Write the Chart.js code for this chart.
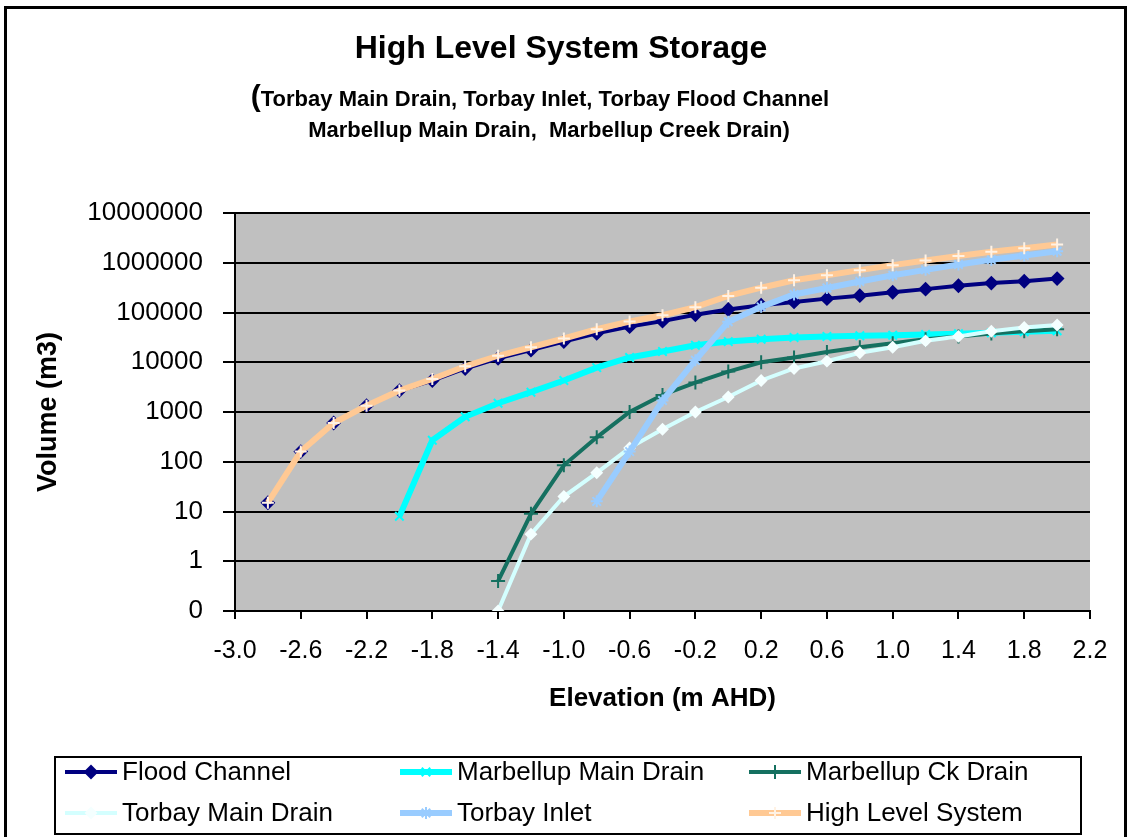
<!DOCTYPE html>
<html>
<head>
<meta charset="utf-8">
<title>High Level System Storage</title>
<script src="https://cdn.jsdelivr.net/npm/chart.js@4.4.0/dist/chart.umd.min.js"></script>
<style>
  html, body { margin: 0; padding: 0; background: #fff; }
  #wrap { position: relative; width: 1130px; height: 837px; }
</style>
</head>
<body>
<div id="wrap"><canvas id="chart" width="1130" height="837"></canvas></div>
<script>
// Elevation (m AHD), one entry per point on the chart
const elevation = [-2.8, -2.6, -2.4, -2.2, -2.0, -1.8, -1.6, -1.4, -1.2, -1.0, -0.8, -0.6, -0.4,
                   -0.2, 0.0, 0.2, 0.4, 0.6, 0.8, 1.0, 1.2, 1.4, 1.6, 1.8, 2.0];

// Volumes (m3), null where a series has no value yet
const floodChannel = [15, 160, 600, 1340, 2700, 4300, 7500, 12000, 17500, 26000, 38000, 52000, 67000,
                      90000, 115000, 140000, 163000, 190000, 218000, 255000, 295000, 345000, 390000, 425000, 480000];
const marbellupMain = [null, null, null, null, 8, 270, 800, 1500, 2500, 4300, 7800, 12500, 16500,
                       22000, 26000, 29000, 31500, 33000, 34000, 35000, 36000, 37500, 39000, 41000, 43000];
const marbellupCk = [null, null, null, null, null, null, null, 0.4, 9, 85, 310, 1000, 2200,
                     3900, 6500, 10000, 12500, 16000, 20000, 24000, 29000, 33000, 38000, 42000, 46000];
const torbayMain = [null, null, null, null, null, null, null, 0.1, 3.5, 20, 60, 190, 450,
                    1000, 2000, 4300, 7500, 10500, 15500, 20000, 27000, 33000, 42000, 50000, 56000];
const torbayInlet = [null, null, null, null, null, null, null, null, null, null, 16, 160, 1700,
                     11000, 65000, 130000, 230000, 310000, 420000, 560000, 720000, 920000, 1150000, 1400000, 1700000];
const highLevel = [15, 160, 600, 1340, 2700, 4600, 8300, 13500, 20000, 30000, 46000, 66000, 88000,
                   128000, 215000, 315000, 445000, 560000, 710000, 895000, 1110000, 1370000, 1660000, 1960000, 2330000];

const xTickValues = [-3.0, -2.6, -2.2, -1.8, -1.4, -1.0, -0.6, -0.2, 0.2, 0.6, 1.0, 1.4, 1.8, 2.2];
const yTickValues = [0.1, 1, 10, 100, 1000, 10000, 100000, 1000000, 10000000];

const FONT = '"Liberation Sans", Arial, sans-serif';

function points(values) {
    return elevation.map((x, i) => ({ x: x, y: values[i] })).filter(p => p.y !== null);
}

function series(label, values, color, width, style, radius, fill, order) {
    return {
        label: label,
        data: points(values),
        borderColor: color,
        backgroundColor: color,
        borderWidth: width,
        pointStyle: style,
        pointRadius: radius,
        pointBackgroundColor: fill,
        pointBorderColor: fill,
        pointBorderWidth: 2,
        tension: 0,
        order: order
    };
}

const datasets = [
    series('Flood Channel', floodChannel, '#000080', 4, 'rectRot', 6, '#000080', 5),
    series('Marbellup Main Drain', marbellupMain, '#00FFFF', 6, 'crossRot', 6, '#00FFFF', 4),
    series('Marbellup Ck Drain', marbellupCk, '#157060', 4, 'cross', 7, '#157060', 3),
    series('Torbay Main Drain', torbayMain, '#D4FFFF', 4, 'rectRot', 5, '#F4FFFF', 2),
    series('Torbay Inlet', torbayInlet, '#99CCFF', 6, 'star', 6, '#99CCFF', 1),
    series('High Level System', highLevel, '#FFC994', 6, 'cross', 6, '#FFF2E4', 0)
];

// Plot background, outer frame, headings and the boxed legend
const decorPlugin = {
    id: 'decor',
    beforeDraw(chart) {
        const { ctx, chartArea } = chart;
        ctx.save();
        ctx.fillStyle = '#fff';
        ctx.fillRect(0, 0, chart.width, chart.height);
        ctx.fillStyle = '#C0C0C0';
        ctx.fillRect(chartArea.left, chartArea.top, chartArea.right - chartArea.left, chartArea.bottom - chartArea.top);
        ctx.restore();
    },
    afterDraw(chart) {
        const ctx = chart.ctx;
        ctx.save();

        // frame
        ctx.strokeStyle = '#000';
        ctx.lineWidth = 3;
        ctx.strokeRect(5.5, 7.5, 1120, 845);

        // headings
        ctx.fillStyle = '#000';
        ctx.textBaseline = 'middle';
        ctx.textAlign = 'center';
        ctx.font = 'bold 32px ' + FONT;
        ctx.fillText('High Level System Storage', 561, 49);

        const line1 = 'Torbay Main Drain, Torbay Inlet, Torbay Flood Channel';
        ctx.font = 'bold 22px ' + FONT;
        const w1 = ctx.measureText(line1).width;
        ctx.font = 'bold 30px ' + FONT;
        const wp = ctx.measureText('(').width;
        const start = 540 - (w1 + wp) / 2;
        ctx.textAlign = 'left';
        ctx.fillText('(', start, 98);
        ctx.font = 'bold 22px ' + FONT;
        ctx.fillText(line1, start + wp, 100);
        ctx.textAlign = 'center';
        ctx.fillText('Marbellup Main Drain,  Marbellup Creek Drain)', 549, 131);

        // legend
        ctx.lineWidth = 2;
        ctx.strokeRect(55, 757, 1026, 77);
        const cols = [65, 400, 749];
        const rows = [772, 813];
        chart.data.datasets.forEach((ds, i) => {
            const x0 = cols[i % 3];
            const y = rows[Math.floor(i / 3)];
            ctx.strokeStyle = ds.borderColor;
            ctx.lineWidth = ds.borderWidth;
            ctx.beginPath();
            ctx.moveTo(x0, y);
            ctx.lineTo(x0 + 52, y);
            ctx.stroke();
            if (Chart.helpers && Chart.helpers.drawPoint) {
                ctx.fillStyle = ds.pointBackgroundColor;
                ctx.strokeStyle = ds.pointBorderColor;
                ctx.lineWidth = ds.pointBorderWidth;
                Chart.helpers.drawPoint(ctx, {
                    pointStyle: ds.pointStyle, rotation: 0,
                    radius: ds.pointRadius, borderWidth: ds.pointBorderWidth
                }, x0 + 26, y);
            }
            ctx.fillStyle = '#000';
            ctx.textAlign = 'left';
            ctx.font = '26px ' + FONT;
            ctx.fillText(ds.label, x0 + 57, y + 1);
        });

        ctx.restore();
    }
};

new Chart(document.getElementById('chart'), {
    type: 'line',
    data: { datasets: datasets },
    plugins: [decorPlugin],
    options: {
        responsive: false,
        animation: false,
        devicePixelRatio: 1,
        layout: { padding: { top: 213, right: 40, bottom: 115, left: 0 } },
        plugins: {
            legend: { display: false },
            title: { display: false },
            tooltip: { enabled: false }
        },
        scales: {
            x: {
                type: 'linear',
                min: -3.0,
                max: 2.2,
                afterBuildTicks: (s) => { s.ticks = xTickValues.map(v => ({ value: v })); },
                afterFit: (s) => { s.height = 111; },
                ticks: {
                    color: '#000',
                    font: { family: FONT, size: 25 },
                    padding: 17,
                    autoSkip: false,
                    maxRotation: 0,
                    callback: (v) => Number(v).toFixed(1)
                },
                grid: { drawOnChartArea: false, color: '#000', lineWidth: 2, tickLength: 8 },
                border: { color: '#000', width: 2 },
                title: {
                    display: true,
                    text: 'Elevation (m AHD)',
                    color: '#000',
                    font: { family: FONT, size: 26, weight: 'bold' },
                    padding: { top: 0, bottom: 8 }
                }
            },
            y: {
                type: 'logarithmic',
                min: 0.1,
                max: 10000000,
                afterBuildTicks: (s) => { s.ticks = yTickValues.map(v => ({ value: v })); },
                afterFit: (s) => { s.width = 235; },
                ticks: {
                    color: '#000',
                    font: { family: FONT, size: 26 },
                    padding: 20,
                    autoSkip: false,
                    callback: (v) => v < 1 ? '0' : String(v)
                },
                grid: { color: '#000', lineWidth: 2, tickLength: 12 },
                border: { color: '#000', width: 2 },
                title: {
                    display: true,
                    text: 'Volume (m3)',
                    color: '#000',
                    font: { family: FONT, size: 27, weight: 'bold' },
                    padding: { top: 32, bottom: 0 }
                }
            }
        }
    }
});
</script>
</body>
</html>
